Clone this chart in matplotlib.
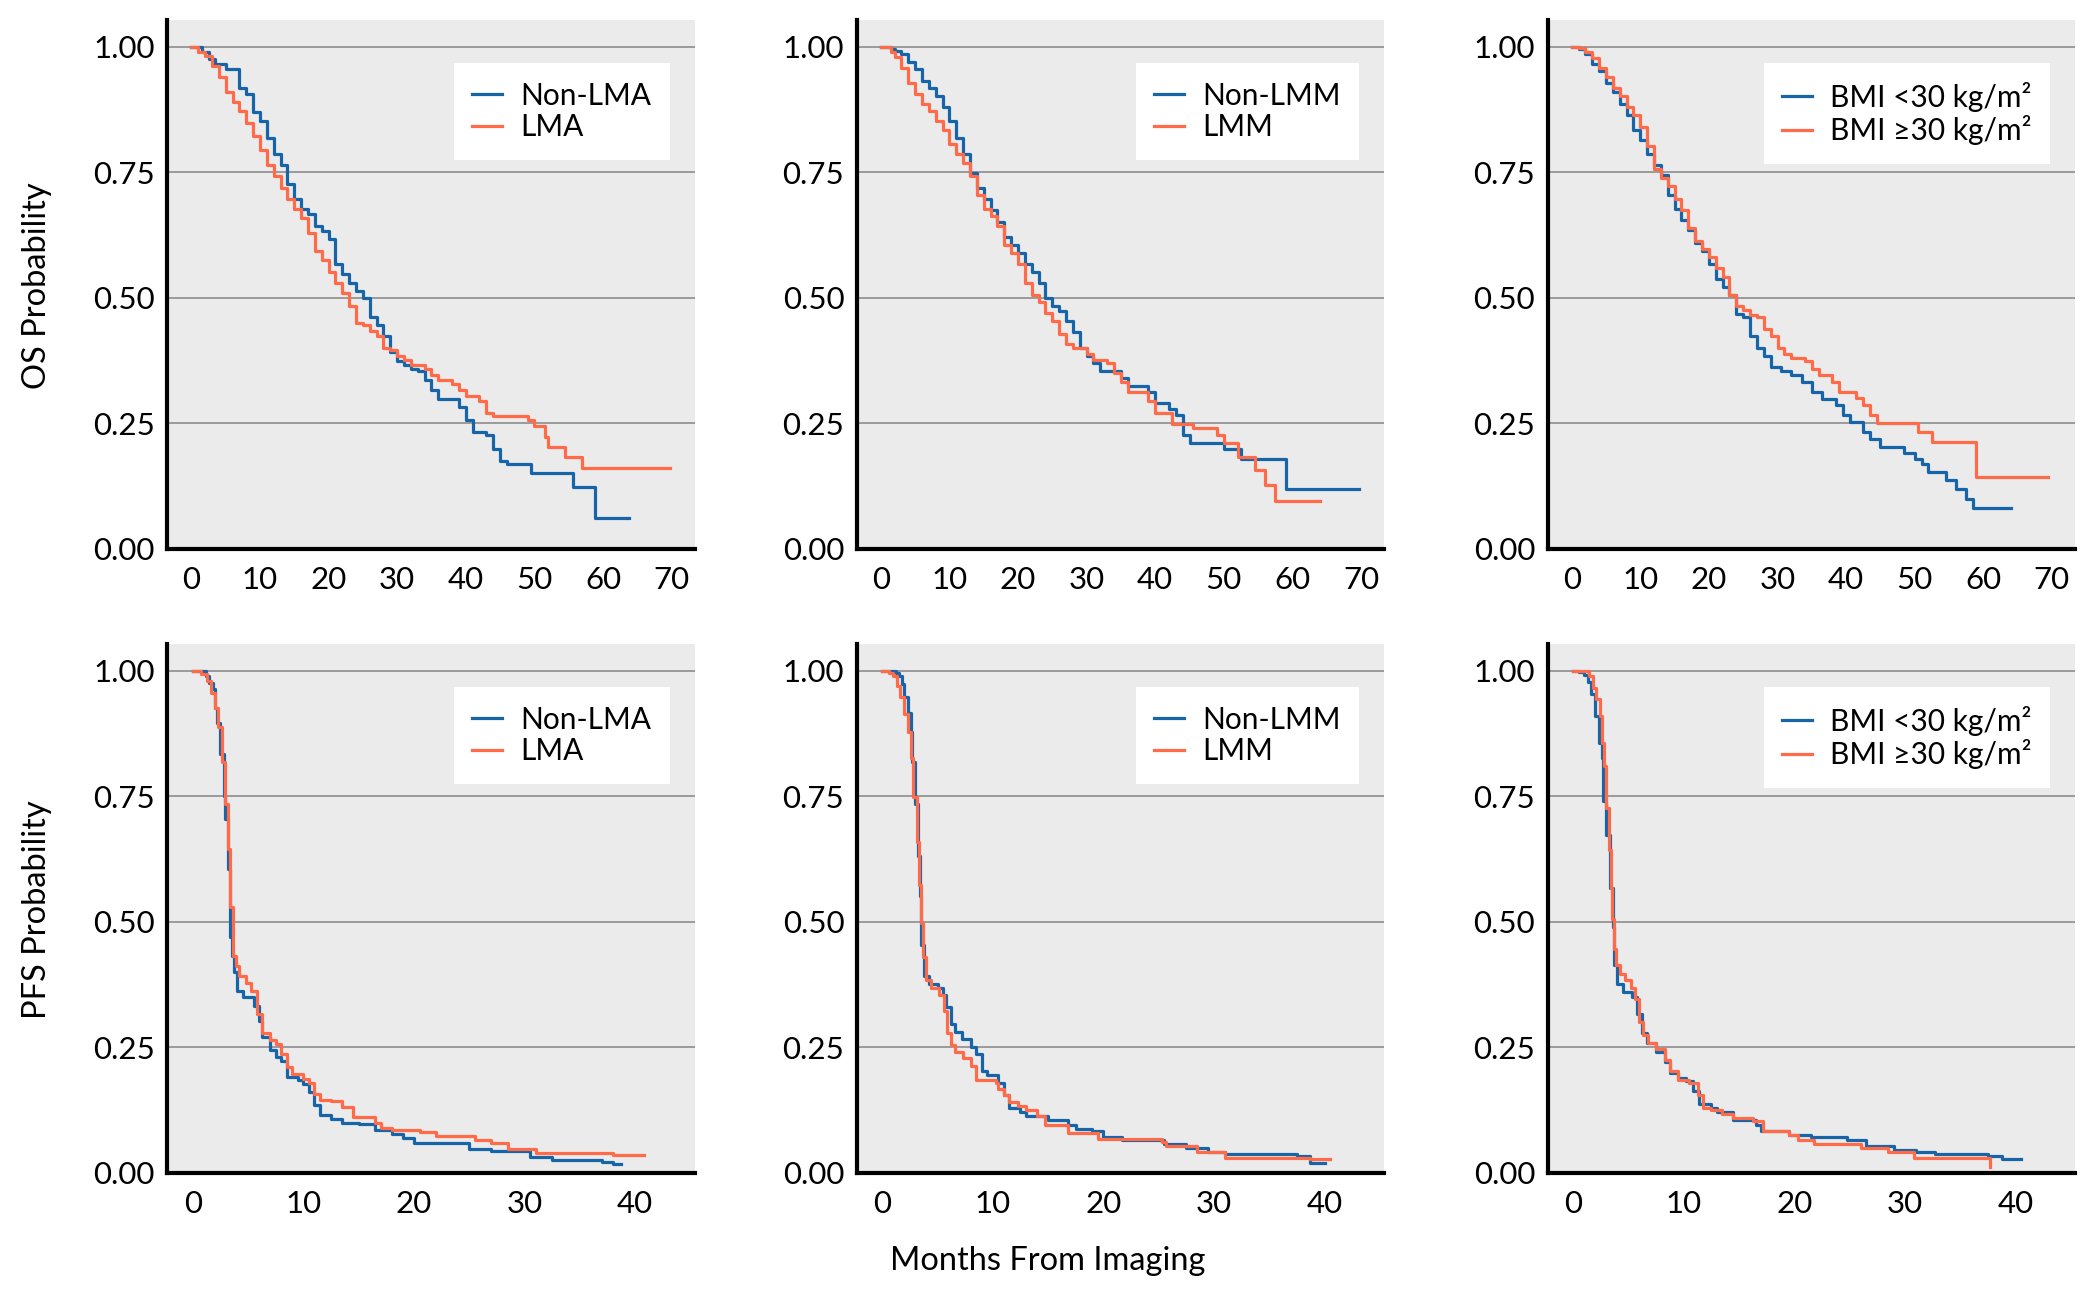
import matplotlib
matplotlib.use("Agg")
import matplotlib.pyplot as plt

plt.rcParams.update({
    'font.family': ['Lato', 'DejaVu Sans'],
    'font.size': 22,
})

# ---- OS data (months, survival probability) ----
os_nonlma_t = [0, 1.5, 2.5, 3.5, 5, 7, 8, 9, 10, 11, 12, 13, 14, 15, 16, 17, 18, 19, 20, 21, 22, 23, 24, 25, 26,
               27, 28, 29, 30, 31, 32, 33, 34, 35, 36, 39, 40, 41, 43, 44, 45, 46, 49.5, 55.7, 58.9, 63.8]
os_nonlma_s = [1.0, 0.99, 0.975, 0.965, 0.955, 0.917, 0.905, 0.87, 0.852, 0.818, 0.787, 0.765, 0.727, 0.696, 0.677,
               0.666, 0.643, 0.632, 0.617, 0.567, 0.548, 0.53, 0.514, 0.499, 0.461, 0.446, 0.423, 0.393, 0.374, 0.366,
               0.358, 0.355, 0.336, 0.317, 0.298, 0.283, 0.256, 0.233, 0.226, 0.199, 0.176, 0.169, 0.152, 0.123, 0.061, 0.061]
os_lma_t = [0, 1, 2, 3, 4, 5, 6, 7, 8, 9, 10, 11, 12, 13, 14, 15, 16, 17, 18, 19, 20, 21, 22, 23, 24, 25, 26, 27, 28,
            29, 30, 31, 32, 34, 35, 36, 38, 39, 40, 42, 43, 44, 49, 50, 51.5, 52, 54.5, 57, 69.7]
os_lma_s = [1.0, 0.99, 0.981, 0.962, 0.939, 0.909, 0.89, 0.871, 0.848, 0.822, 0.795, 0.765, 0.742, 0.719, 0.696, 0.677,
            0.658, 0.628, 0.594, 0.575, 0.552, 0.529, 0.51, 0.484, 0.45, 0.446, 0.434, 0.423, 0.4, 0.396, 0.385, 0.377,
            0.366, 0.358, 0.347, 0.336, 0.328, 0.317, 0.305, 0.294, 0.271, 0.264, 0.256, 0.245, 0.222, 0.203, 0.184,
            0.161, 0.161]

os_nonlmm_t = [0, 1.5, 2, 3, 4, 5, 6, 7, 8, 9, 10, 11, 12, 13, 14, 15, 16, 17, 18, 19, 20, 21, 22, 23, 24, 25, 26, 27,
               28, 29, 30, 31, 32, 35, 36, 39, 40, 42, 43, 44, 45, 50, 52.5, 59, 69.7]
os_nonlmm_s = [1.0, 0.995, 0.992, 0.985, 0.97, 0.955, 0.932, 0.917, 0.901, 0.879, 0.852, 0.818, 0.787, 0.749, 0.719,
               0.696, 0.674, 0.651, 0.62, 0.605, 0.59, 0.567, 0.552, 0.529, 0.499, 0.484, 0.473, 0.454, 0.431, 0.4,
               0.385, 0.37, 0.355, 0.34, 0.325, 0.313, 0.29, 0.279, 0.267, 0.226, 0.21, 0.199, 0.18, 0.119, 0.119]
os_lmm_t = [0, 1.5, 2, 3, 4, 5, 6, 7, 8, 9, 10, 11, 12, 13, 14, 15, 16, 17, 18, 19, 20, 21, 22, 23, 24, 25, 26, 27,
            28, 30, 31, 33, 34, 35, 36, 39, 40, 42.5, 45.5, 49, 50, 52, 54.5, 56, 57.5, 64]
os_lmm_s = [1.0, 0.99, 0.98, 0.958, 0.928, 0.905, 0.886, 0.871, 0.852, 0.833, 0.806, 0.787, 0.768, 0.742, 0.704,
            0.677, 0.662, 0.643, 0.605, 0.59, 0.567, 0.529, 0.506, 0.491, 0.469, 0.454, 0.427, 0.408, 0.4, 0.389,
            0.377, 0.37, 0.351, 0.332, 0.313, 0.294, 0.271, 0.248, 0.241, 0.226, 0.21, 0.184, 0.157, 0.127, 0.096, 0.096]

os_bmilo_t = [0, 1, 2, 3, 4, 5, 6, 7, 8, 9, 10, 11, 12, 13, 14, 15, 16, 17, 18, 19, 20, 21, 22, 23, 24, 25, 26, 27,
              28, 29, 30.5, 32, 33.5, 35, 36.5, 38.5, 39.5, 40.5, 42.5, 43.5, 45, 48.5, 50, 51, 52, 54.5, 56, 57.5,
              58.5, 64]
os_bmilo_s = [1.0, 0.995, 0.985, 0.966, 0.951, 0.928, 0.909, 0.886, 0.863, 0.833, 0.814, 0.787, 0.764, 0.745, 0.704,
              0.677, 0.654, 0.635, 0.609, 0.594, 0.567, 0.537, 0.521, 0.506, 0.468, 0.461, 0.423, 0.4, 0.385, 0.362,
              0.355, 0.347, 0.332, 0.313, 0.298, 0.286, 0.267, 0.252, 0.233, 0.218, 0.203, 0.191, 0.18, 0.169, 0.153,
              0.138, 0.119, 0.1, 0.081, 0.081]
os_bmihi_t = [0, 1, 2, 3, 4, 5, 6, 7, 8, 9, 10, 11, 12, 13, 14, 15, 16, 17, 18, 19, 20, 21, 22, 23, 24, 25, 26, 27,
              28, 29, 30, 31, 32, 34, 35, 36, 38, 39, 41.5, 42.5, 43.5, 44.5, 50.5, 52.5, 59, 69.5]
os_bmihi_s = [1.0, 0.997, 0.989, 0.977, 0.958, 0.939, 0.917, 0.901, 0.879, 0.863, 0.84, 0.803, 0.757, 0.738, 0.723,
              0.696, 0.674, 0.639, 0.613, 0.598, 0.582, 0.559, 0.541, 0.506, 0.484, 0.476, 0.465, 0.461, 0.438, 0.423,
              0.4, 0.389, 0.381, 0.374, 0.358, 0.347, 0.332, 0.313, 0.301, 0.286, 0.267, 0.25, 0.233, 0.212, 0.144, 0.144]

# ---- PFS data ----
pfs_nonlma_t = [0, 1.2, 1.5, 1.8, 2, 2.2, 2.5, 2.8, 2.9, 3.2, 3.4, 3.5, 3.7, 4, 4.5, 5.5, 6, 6.3, 7, 7.5, 8, 8.5,
                9.5, 10, 10.5, 11, 11.5, 12.5, 13.5, 15, 16.5, 18, 19, 20, 25, 27, 30.5, 32.5, 37, 38, 38.7]
pfs_nonlma_s = [1.0, 0.99, 0.975, 0.963, 0.925, 0.895, 0.834, 0.75, 0.705, 0.606, 0.469, 0.431, 0.401, 0.363, 0.351,
                0.332, 0.302, 0.271, 0.245, 0.23, 0.222, 0.192, 0.185, 0.177, 0.162, 0.135, 0.116, 0.108, 0.1, 0.097,
                0.085, 0.078, 0.07, 0.059, 0.047, 0.043, 0.032, 0.025, 0.021, 0.017, 0.017]
pfs_lma_t = [0, 0.7, 1.3, 1.6, 2, 2.3, 2.6, 2.9, 3.2, 3.4, 3.6, 3.9, 4.2, 4.8, 5.3, 5.8, 6.3, 7, 7.5, 8, 8.5, 9, 10,
             10.5, 11, 11.5, 12.5, 13.5, 14.5, 16.5, 17, 18, 20.5, 22, 25.5, 27, 28.5, 31, 38, 40.8]
pfs_lma_s = [1.0, 0.994, 0.98, 0.956, 0.925, 0.887, 0.819, 0.735, 0.644, 0.53, 0.431, 0.412, 0.393, 0.378, 0.363,
             0.317, 0.279, 0.264, 0.256, 0.237, 0.211, 0.196, 0.188, 0.18, 0.158, 0.146, 0.143, 0.131, 0.112, 0.1,
             0.089, 0.085, 0.081, 0.074, 0.066, 0.059, 0.047, 0.04, 0.036, 0.036]

pfs_nonlmm_t = [0, 1.2, 1.5, 1.8, 2, 2.3, 2.6, 2.7, 3, 3.2, 3.4, 3.5, 3.8, 4.2, 5, 5.5, 5.8, 6.2, 6.6, 7.2, 8, 8.5, 9,
                9.5, 10.5, 11, 11.5, 12.5, 13, 15, 16.8, 17.5, 19, 20, 21.7, 25.5, 27.5, 29.5, 31, 37.5, 38.7, 40]
pfs_nonlmm_s = [1.0, 0.995, 0.989, 0.973, 0.947, 0.916, 0.878, 0.818, 0.734, 0.631, 0.552, 0.453, 0.392, 0.377, 0.369,
                0.354, 0.331, 0.297, 0.281, 0.266, 0.251, 0.236, 0.202, 0.194, 0.179, 0.156, 0.129, 0.122, 0.114,
                0.106, 0.095, 0.087, 0.084, 0.072, 0.065, 0.057, 0.049, 0.042, 0.038, 0.034, 0.019, 0.019]
pfs_lmm_t = [0, 0.6, 1, 1.3, 1.6, 2, 2.3, 2.6, 2.8, 3.1, 3.3, 3.5, 3.7, 4, 4.4, 5.1, 5.6, 5.9, 6.2, 6.6, 7.3, 8, 8.5,
             10.3, 10.5, 11, 11.5, 12.3, 13, 14, 14.7, 16.8, 19.5, 25.3, 25.7, 28.5, 31, 38.7, 40.5]
pfs_lmm_s = [1.0, 0.996, 0.989, 0.97, 0.947, 0.913, 0.878, 0.825, 0.749, 0.658, 0.574, 0.498, 0.43, 0.384, 0.369,
             0.354, 0.323, 0.278, 0.255, 0.24, 0.228, 0.213, 0.186, 0.179, 0.167, 0.156, 0.141, 0.133, 0.125, 0.114,
             0.095, 0.08, 0.068, 0.061, 0.053, 0.042, 0.03, 0.027, 0.027]

pfs_bmilo_t = [0, 0.5, 1, 1.3, 1.6, 2, 2.3, 2.6, 2.7, 3, 3.3, 3.6, 3.7, 4, 4.5, 5.3, 5.8, 6.2, 6.7, 7.5, 8.3, 8.8,
               9.5, 10.2, 10.8, 11.4, 12.5, 13, 14.5, 16.5, 17, 19.5, 21.5, 24.8, 26.5, 29, 31, 32.7, 37.5, 38.8, 40.5]
pfs_bmilo_s = [1.0, 0.997, 0.992, 0.977, 0.954, 0.909, 0.856, 0.825, 0.741, 0.673, 0.567, 0.49, 0.414, 0.376, 0.361,
               0.35, 0.316, 0.278, 0.259, 0.24, 0.221, 0.198, 0.19, 0.183, 0.163, 0.137, 0.129, 0.122, 0.106, 0.095,
               0.084, 0.076, 0.072, 0.065, 0.053, 0.046, 0.042, 0.038, 0.034, 0.027, 0.027]
pfs_bmihi_t = [0, 1.4, 1.8, 2.1, 2.4, 2.6, 2.8, 3, 3.2, 3.4, 3.5, 3.7, 3.9, 4.2, 4.7, 5.2, 5.6, 6, 6.3, 6.8, 7.5, 8.3,
               8.8, 9.5, 10.5, 11.3, 11.7, 12.5, 13.5, 14.5, 16.3, 17.2, 19.5, 20.3, 21.8, 26, 28.5, 30.8, 37.7, 37.7]
pfs_bmihi_s = [1.0, 0.989, 0.966, 0.943, 0.909, 0.856, 0.81, 0.726, 0.643, 0.567, 0.506, 0.445, 0.414, 0.396, 0.384,
               0.369, 0.346, 0.301, 0.274, 0.259, 0.247, 0.225, 0.202, 0.186, 0.179, 0.156, 0.129, 0.126, 0.118, 0.11,
               0.103, 0.084, 0.076, 0.065, 0.057, 0.049, 0.042, 0.03, 0.03, 0.012]

labels = [('Non-LMA', 'LMA'), ('Non-LMM', 'LMM'), ('BMI <30 kg/m²', 'BMI ≥30 kg/m²')]
os_ticks = [0, 10, 20, 30, 40, 50, 60, 70]
pfs_ticks = [0, 10, 20, 30, 40]
y_ticks = [0.0, 0.25, 0.5, 0.75, 1.0]

color_blue = '#1764a6'
color_orange = '#ff6a48'

fig = plt.figure(figsize=(21, 13.03), dpi=100)

col_left = [0.0797, 0.408, 0.737]
row_bottom = [0.5787, 0.0998]
w, h = 0.2512, 0.406

panels = [
    [(os_nonlma_t, os_nonlma_s, os_lma_t, os_lma_s),
     (os_nonlmm_t, os_nonlmm_s, os_lmm_t, os_lmm_s),
     (os_bmilo_t, os_bmilo_s, os_bmihi_t, os_bmihi_s)],
    [(pfs_nonlma_t, pfs_nonlma_s, pfs_lma_t, pfs_lma_s),
     (pfs_nonlmm_t, pfs_nonlmm_s, pfs_lmm_t, pfs_lmm_s),
     (pfs_bmilo_t, pfs_bmilo_s, pfs_bmihi_t, pfs_bmihi_s)],
]

for r in range(2):
    for c in range(3):
        ax = fig.add_axes([col_left[c], row_bottom[r], w, h])
        t1, s1, t2, s2 = panels[r][c]
        ax.set_facecolor('#ebebeb')
        ax.step(t1, s1, where='post', color=color_blue, lw=2.3, label=labels[c][0], zorder=3)
        ax.step(t2, s2, where='post', color=color_orange, lw=2.3, label=labels[c][1], zorder=3)

        ax.set_ylim(0, 1.053)
        ax.set_yticks(y_ticks)
        ax.set_yticklabels(['0.00', '0.25', '0.50', '0.75', '1.00'])
        if r == 0:
            ax.set_xlim(-3.5, 73.4)
            ax.set_xticks(os_ticks)
        else:
            ax.set_xlim(-2.3, 45.4)
            ax.set_xticks(pfs_ticks)

        ax.grid(True, axis='y', color='#9a9a9a', lw=1.4)
        ax.set_axisbelow(True)
        for side in ['top', 'right']:
            ax.spines[side].set_visible(False)
        for side in ['left', 'bottom']:
            ax.spines[side].set_linewidth(3)
            ax.spines[side].set_color('black')
        ax.tick_params(axis='both', length=0, labelsize=22.5)
        ax.tick_params(axis='x', pad=12)
        ax.tick_params(axis='y', pad=9)

        ax.legend(loc='upper right', bbox_to_anchor=(0.952, 0.918), borderaxespad=0,
                  frameon=True, fancybox=False, framealpha=1, facecolor='white', edgecolor='none',
                  fontsize=21.5, handlelength=1.0, handletextpad=0.6, labelspacing=0.12,
                  borderpad=0.62)

fig.text(0.0176, 0.781, 'OS Probability', rotation=90, ha='center', va='center', fontsize=23.5)
fig.text(0.0176, 0.302, 'PFS Probability', rotation=90, ha='center', va='center', fontsize=23.5)
fig.text(0.499, 0.032, 'Months From Imaging', ha='center', va='center', fontsize=23.5)

fig.savefig('out.png', dpi=100)
